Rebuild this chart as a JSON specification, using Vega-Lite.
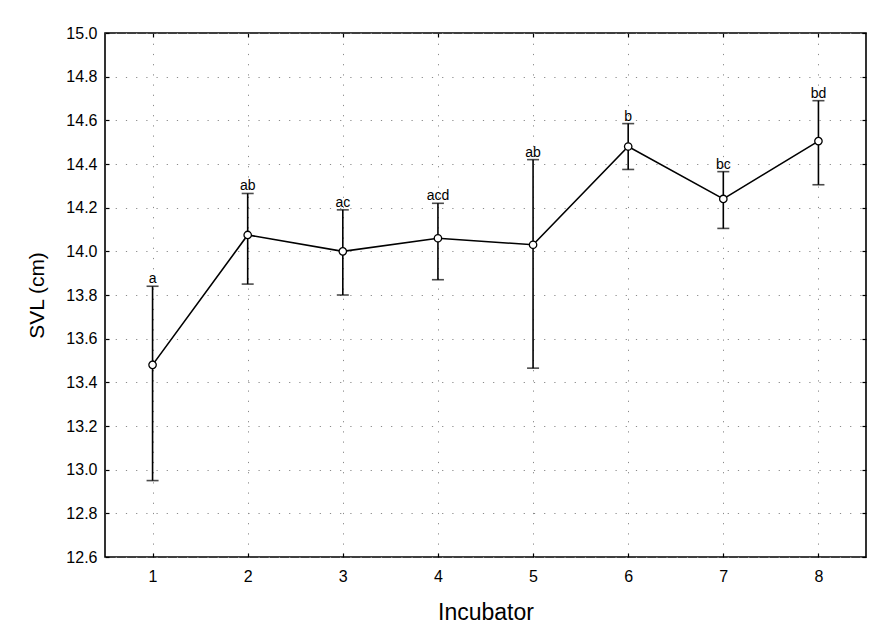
{
  "$schema": "https://vega.github.io/schema/vega-lite/v6.json",
  "width": 761,
  "height": 524,
  "autosize": {"type": "none"},
  "padding": {"left": 105, "top": 33, "right": 3, "bottom": 78},
  "background": "white",
  "config": {
    "font": "Liberation Sans",
    "view": {"stroke": "black", "strokeWidth": 1.6},
    "axis": {
      "domain": false,
      "tickColor": "black",
      "tickSize": -4,
      "tickWidth": 1.2,
      "labelColor": "black",
      "titleColor": "black",
      "titleFontWeight": "normal",
      "gridColor": "#8a8a8a",
      "gridDash": [1.2, 9],
      "gridWidth": 1
    }
  },
  "data": {
    "values": [
      {"incubator": 1, "svl": 13.48, "lo": 12.95, "hi": 13.84, "group": "a"},
      {"incubator": 2, "svl": 14.075, "lo": 13.85, "hi": 14.265, "group": "ab"},
      {"incubator": 3, "svl": 14.0, "lo": 13.8, "hi": 14.19, "group": "ac"},
      {"incubator": 4, "svl": 14.06, "lo": 13.87, "hi": 14.22, "group": "acd"},
      {"incubator": 5, "svl": 14.03, "lo": 13.465, "hi": 14.42, "group": "ab"},
      {"incubator": 6, "svl": 14.48, "lo": 14.375, "hi": 14.585, "group": "b"},
      {"incubator": 7, "svl": 14.24, "lo": 14.105, "hi": 14.365, "group": "bc"},
      {"incubator": 8, "svl": 14.505, "lo": 14.305, "hi": 14.69, "group": "bd"}
    ]
  },
  "resolve": {"axis": {"x": "independent", "y": "independent"}},
  "layer": [
    {
      "mark": {"type": "rule", "color": "black", "strokeWidth": 1.6},
      "encoding": {
        "x": {
          "field": "incubator",
          "type": "quantitative",
          "scale": {"domain": [0.5, 8.5], "nice": false, "zero": false},
          "axis": {
            "title": "Incubator",
            "values": [1, 2, 3, 4, 5, 6, 7, 8],
            "format": "d",
            "labelFontSize": 16,
            "labelPadding": 15,
            "titleFontSize": 23,
            "titlePadding": 17
          }
        },
        "y": {
          "field": "lo",
          "type": "quantitative",
          "scale": {"domain": [12.6, 15.0], "nice": false, "zero": false},
          "axis": {
            "title": "SVL (cm)",
            "values": [12.6, 12.8, 13.0, 13.2, 13.4, 13.6, 13.8, 14.0, 14.2, 14.4, 14.6, 14.8, 15.0],
            "format": ".1f",
            "labelFontSize": 16,
            "labelPadding": 12,
            "titleFontSize": 21,
            "titlePadding": 18
          }
        },
        "y2": {"field": "hi"}
      }
    },
    {
      "mark": {"type": "tick", "orient": "horizontal", "color": "black", "size": 12, "thickness": 1.6},
      "encoding": {
        "x": {
          "field": "incubator",
          "type": "quantitative",
          "axis": {
            "orient": "top",
            "values": [1, 2, 3, 4, 5, 6, 7, 8],
            "labels": false,
            "grid": false,
            "title": null
          }
        },
        "y": {
          "field": "lo",
          "type": "quantitative",
          "axis": {
            "orient": "right",
            "values": [12.6, 12.8, 13.0, 13.2, 13.4, 13.6, 13.8, 14.0, 14.2, 14.4, 14.6, 14.8, 15.0],
            "labels": false,
            "grid": false,
            "title": null
          }
        }
      }
    },
    {
      "mark": {"type": "tick", "orient": "horizontal", "color": "black", "size": 12, "thickness": 1.6},
      "encoding": {
        "x": {"field": "incubator", "type": "quantitative", "axis": null},
        "y": {"field": "hi", "type": "quantitative", "axis": null}
      }
    },
    {
      "mark": {"type": "line", "color": "black", "strokeWidth": 1.6},
      "encoding": {
        "x": {"field": "incubator", "type": "quantitative", "axis": null},
        "y": {"field": "svl", "type": "quantitative", "axis": null}
      }
    },
    {
      "mark": {"type": "point", "shape": "circle", "filled": true, "fill": "white", "stroke": "black", "strokeWidth": 1.3, "size": 55, "opacity": 1},
      "encoding": {
        "x": {"field": "incubator", "type": "quantitative", "axis": null},
        "y": {"field": "svl", "type": "quantitative", "axis": null}
      }
    },
    {
      "mark": {"type": "text", "fontSize": 14, "baseline": "alphabetic", "dy": -3, "color": "black"},
      "encoding": {
        "x": {"field": "incubator", "type": "quantitative", "axis": null},
        "y": {"field": "hi", "type": "quantitative", "axis": null},
        "text": {"field": "group"}
      }
    }
  ]
}
